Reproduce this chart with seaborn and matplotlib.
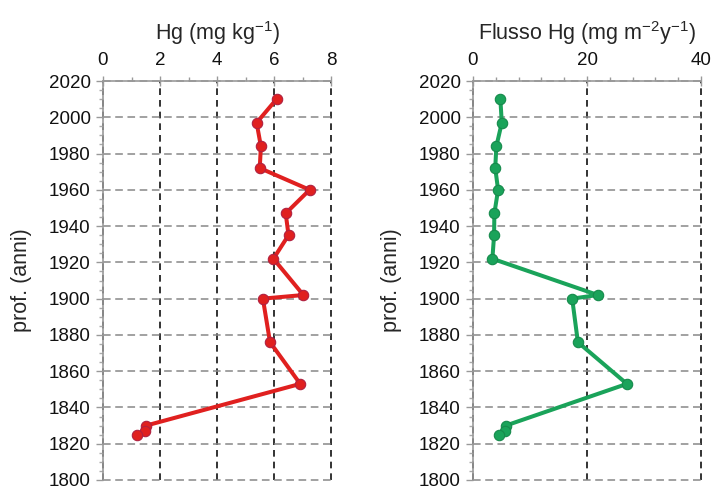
import matplotlib
matplotlib.use("Agg")
import matplotlib.pyplot as plt
from matplotlib.ticker import MultipleLocator
import seaborn as sns
import pandas as pd

years = [2010, 1997, 1984, 1972, 1960, 1947, 1935, 1922, 1902, 1900, 1876, 1853, 1830, 1827, 1825]
hg_conc = [6.09, 5.39, 5.54, 5.50, 7.25, 6.41, 6.51, 5.98, 7.03, 5.61, 5.86, 6.92, 1.51, 1.48, 1.18]
hg_flux = [4.8, 5.05, 4.1, 3.9, 4.4, 3.75, 3.7, 3.4, 21.9, 17.4, 18.4, 27.0, 5.75, 5.6, 4.6]

title_conc = "Hg (mg kg$^{-1}$)"
title_flux = "Flusso Hg (mg m$^{-2}$y$^{-1}$)"
ylabel = "prof. (anni)"

sns.set_theme(style="white")
plt.rcParams["font.family"] = ["Liberation Sans", "DejaVu Sans"]
plt.rcParams["mathtext.fontset"] = "custom"
plt.rcParams["mathtext.rm"] = "Liberation Sans"
plt.rcParams["mathtext.default"] = "regular"

df = pd.DataFrame({"year": years, "conc": hg_conc, "flux": hg_flux})

fig = plt.figure(figsize=(7.12, 4.87), dpi=100)
W, H = 712, 487
ax1 = fig.add_axes([103 / W, 1 - 480 / H, 228 / W, 399 / H])
ax2 = fig.add_axes([473 / W, 1 - 480 / H, 228 / W, 399 / H])

specs = [
    (ax1, "conc", "#e0201f", "#b02040", (0, 8), 2, 1, title_conc),
    (ax2, "flux", "#1aa35a", "#168a4c", (0, 40), 20, 4, title_flux),
]

for ax, col, color, edge, xlim, major, minor, title in specs:
    sns.lineplot(data=df, x=col, y="year", sort=False, estimator=None, ax=ax,
                 color=color, linewidth=2.9, marker="o", markersize=7.5,
                 markerfacecolor=color, markeredgecolor=edge, markeredgewidth=0.8,
                 zorder=5)
    ax.set_xlim(*xlim)
    ax.set_ylim(1800, 2020)
    ax.xaxis.set_major_locator(MultipleLocator(major))
    ax.xaxis.set_minor_locator(MultipleLocator(minor))
    ax.yaxis.set_major_locator(MultipleLocator(20))
    ax.yaxis.set_minor_locator(MultipleLocator(5))
    ax.xaxis.tick_top()
    ax.xaxis.set_label_position("top")
    ax.set_xlabel(title, fontsize=15.5, labelpad=9)
    ax.set_ylabel(ylabel, fontsize=15.5, labelpad=12)
    ax.tick_params(axis="x", which="major", direction="inout", length=7, width=1,
                   color="#999999", labelsize=13.5, pad=5, labelcolor="#111111")
    ax.tick_params(axis="x", which="minor", direction="out", length=3, width=1,
                   color="#999999", top=True)
    ax.tick_params(axis="y", which="major", direction="out", length=5, width=1,
                   color="#999999", labelsize=13.5, pad=4, labelcolor="#111111", left=True)
    ax.tick_params(axis="y", which="minor", direction="out", length=3, width=1,
                   color="#aaaaaa", left=True)
    for s in ["right", "bottom"]:
        ax.spines[s].set_visible(False)
    for s in ["left", "top"]:
        ax.spines[s].set_color("#999999")
        ax.spines[s].set_linewidth(1.2)
    ax.grid(False)
    ax.yaxis.grid(True, which="major", linestyle=(0, (5, 3)), color="#888888", linewidth=1.1)
    ax.xaxis.grid(True, which="major", linestyle=(0, (4, 3)), color="#111111", linewidth=1.2)
    ax.set_axisbelow(True)
    for line in ax.get_xgridlines() + ax.get_ygridlines():
        line.set_clip_on(False)

fig.savefig("out.png", dpi=100)
